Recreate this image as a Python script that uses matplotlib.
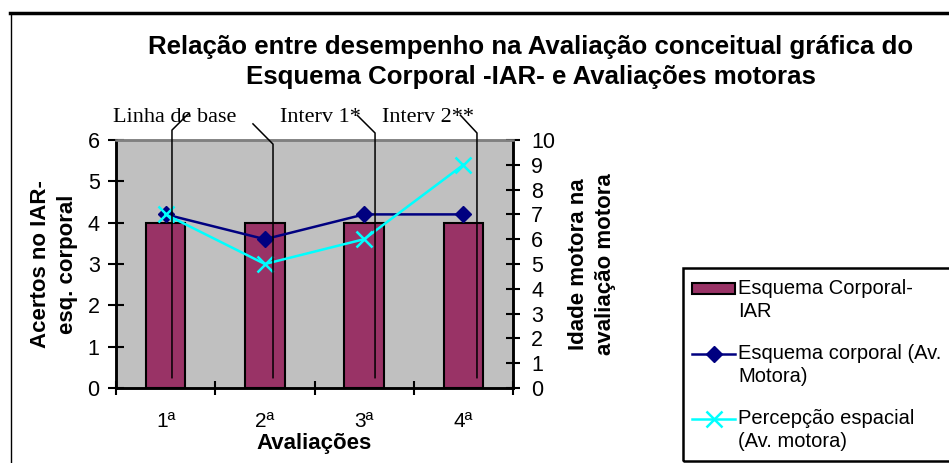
import matplotlib
matplotlib.use("Agg")
import matplotlib.pyplot as plt
from matplotlib.lines import Line2D
from matplotlib.patches import Rectangle
from matplotlib.legend_handler import HandlerLine2D, HandlerPatch
from matplotlib.transforms import Affine2D

plt.rcParams['font.family'] = ['Liberation Sans', 'DejaVu Sans']

# ---- data ----
categorias = ["1ª", "2ª", "3ª", "4ª"]
esquema_iar = [4, 4, 4, 4]                 # left axis (bars)
esquema_motora = [7, 6, 7, 7]              # right axis
percepcao_espacial = [7, 5, 6, 9]          # right axis
fases = ["Linha de base", "Interv 1*", "Interv 2**"]

titulo = ("Relação entre desempenho na Avaliação conceitual gráfica do\n"
          "Esquema Corporal -IAR- e Avaliações motoras")

# ---- figure ----
W, H = 949, 463
fig = plt.figure(figsize=(W / 100, H / 100), dpi=100)
ax = fig.add_axes([116 / W, 1 - 388 / H, (513 - 116) / W, (388 - 140) / H])
ax.set_facecolor('#C0C0C0')
ax2 = ax.twinx()

x = list(range(len(categorias)))
bars = ax.bar(x, esquema_iar, width=0.4, color='#993366', edgecolor='black',
              linewidth=1.5, zorder=2)
bar_handle = bars.patches[0]
bar_handle.set_label('Esquema Corporal-\nIAR')
l1, = ax2.plot(x, esquema_motora, color='#000080', lw=1.8, marker='D',
               markersize=8, label='Esquema corporal (Av.\nMotora)')
l2, = ax2.plot(x, percepcao_espacial, color='#00FFFF', lw=1.8, marker='x',
               markersize=11, markeredgewidth=1.8,
               label='Percepção espacial\n(Av. motora)')

ax.set_xlim(-0.5, len(categorias) - 0.5)
ax.set_ylim(0, 6)
ax2.set_ylim(0, 10)
ax.set_yticks(range(0, 7))
ax2.set_yticks(range(0, 11))
ax.set_xticks(x)
ax.set_xticklabels(categorias)
ax.set_xticks([i - 0.5 for i in range(len(categorias) + 1)], minor=True)

ax.tick_params(axis='x', which='major', length=0, pad=17, labelsize=15)
ax.tick_params(axis='x', which='minor', direction='inout', length=9.4, width=1.5)
ax.tick_params(axis='y', direction='inout', length=11.5, width=1.5, pad=6, labelsize=15.5)
ax2.tick_params(axis='y', direction='inout', length=9.4, width=1.5, pad=8.5, labelsize=15.5)

for a in (ax, ax2):
    for s in ('left', 'right', 'bottom'):
        a.spines[s].set_linewidth(1.8)
        a.spines[s].set_color('black')
    a.spines['top'].set_color('#808080')
    a.spines['top'].set_linewidth(1.8)

# axis labels
ax.text(-0.156, 0.5, "Acertos no IAR-\nesq. corporal", transform=ax.transAxes,
        rotation=90, ha='center', va='center', fontsize=16, fontweight='bold',
        linespacing=1.4)
ax.text(1.199, 0.5, "Idade motora na\navaliação motora", transform=ax.transAxes,
        rotation=90, ha='center', va='center', fontsize=16, fontweight='bold',
        linespacing=1.35)
ax.text(0.5, -0.222, "Avaliações", transform=ax.transAxes, ha='center',
        va='center', fontsize=16, fontweight='bold')

# title
fig.text(531 / W, 1 - 62 / H, titulo, ha='center', va='center', fontsize=18.6,
         fontweight='bold', linespacing=1.32)

# leader lines (phase annotations)
lead_x = [0.064, 1.082, 2.11, 3.137]
lead_top = [6.24, 5.90, 6.17, 6.17]
lead_end_x = [0.236, 0.88, 1.93, 2.97]
lead_end_y = [6.65, 6.39, 6.60, 6.60]
for lx, lt, ex, ey in zip(lead_x, lead_top, lead_end_x, lead_end_y):
    ax2.plot([lx, lx, ex], [0.25 * 10 / 6, lt * 10 / 6, ey * 10 / 6],
             color='black', lw=1.1, clip_on=False, zorder=5)

fase_x = [0.094, 1.56, 2.64]
for fx, txt in zip(fase_x, fases):
    ax.text(fx, 6.55, txt, ha='center', va='center', fontsize=16,
            family=['Liberation Serif', 'DejaVu Serif'])

# legend with handles aligned to first text line
SHIFT = 8.5

class ShiftLine(HandlerLine2D):
    def create_artists(self, *args, **kw):
        arts = super().create_artists(*args, **kw)
        trans = args[-1]
        for a in arts:
            a.set_transform(Affine2D().translate(0, SHIFT) + trans)
        return arts

class ShiftPatch(HandlerPatch):
    def create_artists(self, *args, **kw):
        arts = super().create_artists(*args, **kw)
        trans = args[-1]
        for a in arts:
            a.set_transform(Affine2D().translate(0, SHIFT) + trans)
        return arts

leg = fig.legend(handles=[bar_handle, l1, l2],
                 loc='upper left', bbox_to_anchor=(681 / W, 1 - 268 / H),
                 borderaxespad=0, fontsize=14.5, frameon=False,
                 borderpad=0.55,
                 handlelength=2.15, handleheight=0.5, handletextpad=0.15,
                 labelspacing=1.14,
                 handler_map={Rectangle: ShiftPatch(), Line2D: ShiftLine()})
for t in leg.get_texts():
    t.set_linespacing(1.27)

# legend frame (extends past the right edge as in the original chart)
fig.add_artist(Rectangle((683 / W, 1 - 461 / H), 0.5, (461 - 268) / H,
                         fill=True, facecolor='none', edgecolor='black',
                         lw=1.8, transform=fig.transFigure, zorder=4))

# outer chart border
fig.add_artist(Line2D([10 / W, 1], [1 - 13 / H, 1 - 13 / H], color='black',
                      lw=2.5, transform=fig.transFigure))
fig.add_artist(Line2D([10.5 / W, 10.5 / W], [0, 1 - 13 / H], color='black',
                      lw=1.0, transform=fig.transFigure))

fig.savefig('out.png', dpi=100)
